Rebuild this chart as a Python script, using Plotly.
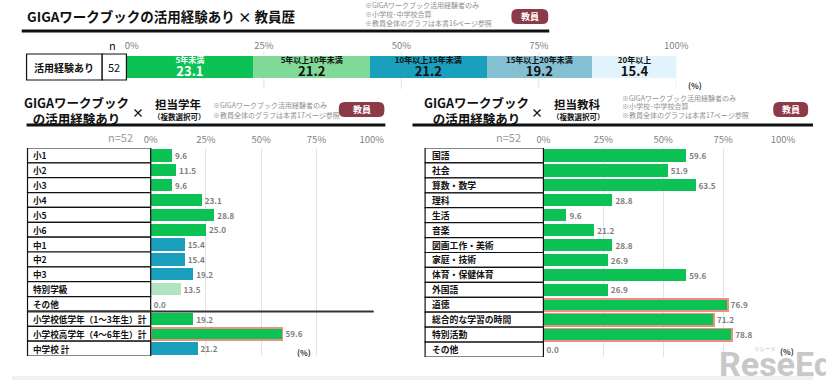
import plotly.graph_objects as go

W, H = 826, 380
def X(px): return px / W
def Y(py): return 1 - py / H

FONT = "Noto Sans CJK JP"

# ---------------- data ----------------
top_row_label = "活用経験あり"
top_n = 52
career_cats = ["5年未満", "5年以上10年未満", "10年以上15年未満", "15年以上20年未満", "20年以上"]
career_vals = [23.1, 21.2, 21.2, 19.2, 15.4]
career_colors = ["#0cc255", "#80d997", "#1a9fbd", "#85bfd2", "#e2f4fb"]
career_textcolors = ["#ffffff", "#111111", "#111111", "#111111", "#111111"]

grade_cats = ["小1", "小2", "小3", "小4", "小5", "小6", "中1", "中2", "中3", "特別学級", "その他",
              "小学校低学年（1～3年生）計", "小学校高学年（4～6年生）計", "中学校 計"]
grade_vals = [9.6, 11.5, 9.6, 23.1, 28.8, 25.0, 15.4, 15.4, 19.2, 13.5, 0.0, 19.2, 59.6, 21.2]
grade_groups = ["小", "小", "小", "小", "小", "小", "中", "中", "中", "特", "他", "小", "小", "中"]
grade_highlight = [12]

subj_cats = ["国語", "社会", "算数・数学", "理科", "生活", "音楽", "図画工作・美術", "家庭・技術",
             "体育・保健体育", "外国語", "道徳", "総合的な学習の時間", "特別活動", "その他"]
subj_vals = [59.6, 51.9, 63.5, 28.8, 9.6, 21.2, 28.8, 26.9, 59.6, 26.9, 76.9, 71.2, 78.8, 0.0]
subj_highlight = [10, 11, 12]

tick_vals = [0, 25, 50, 75, 100]
tick_text = ["0%", "25%", "50%", "75%", "100%"]

GREEN = "#0cc255"
TEAL = "#1a9fbd"
LIGHTG = "#b3e4c1"
HL = "#ee8f7f"
group_color = {"小": GREEN, "中": TEAL, "特": LIGHTG, "他": GREEN}
VALGREY = "#7f7f7f"

fig = go.Figure()

# ---------------- top stacked bar ----------------
for cat, v, c, tc in zip(career_cats, career_vals, career_colors, career_textcolors):
    fig.add_trace(go.Bar(
        x=[v], y=[0], width=[1], orientation="h", xaxis="x", yaxis="y",
        marker=dict(color=c, line=dict(width=0)),
        text=[f"<span style='font-size:8px'><b>{cat}</b></span><br>"
              f"<span style='font-size:13px'><b>{v:.1f}</b></span>"],
        textposition="inside", insidetextanchor="middle", constraintext="none",
        textangle=0,
        textfont=dict(color=tc, size=10, family=FONT),
        showlegend=False, hoverinfo="skip"))

def bars(vals, cats, colors, hl, xa, ya):
    lw = [1.8 if i in hl else 0 for i in range(len(vals))]
    lc = [HL if i in hl else "rgba(0,0,0,0)" for i in range(len(vals))]
    fig.add_trace(go.Bar(
        x=vals, y=list(range(len(cats))), orientation="h", xaxis=xa, yaxis=ya,
        marker=dict(color=colors, line=dict(width=lw, color=lc)),
        texttemplate="%{x:.1f}", textposition="outside", cliponaxis=False,
        textfont=dict(color=VALGREY, size=10, family=FONT, weight="bold"),
        showlegend=False, hoverinfo="skip"))

bars(grade_vals, grade_cats, [group_color[g] for g in grade_groups], grade_highlight, "x2", "y2")
bars(subj_vals, subj_cats, [GREEN] * len(subj_vals), subj_highlight, "x3", "y3")

axfont = dict(color=VALGREY, size=9.5, family=FONT)
xcommon = dict(range=[0, 100], tickvals=tick_vals, side="top",
               ticks="", tickfont=axfont, zeroline=False, showline=False, fixedrange=True)
top_ticktext = ["\u2007\u2007" + tick_text[0]] + tick_text[1:]

fig.update_layout(
    width=W, height=H, margin=dict(l=0, r=0, t=0, b=0),
    paper_bgcolor="white", plot_bgcolor="rgba(0,0,0,0)",
    barmode="stack", bargap=0.18,
    font=dict(family=FONT),
    xaxis=dict(domain=[X(118), X(685)], anchor="y", showgrid=False, ticktext=top_ticktext,
               ticklabelstandoff=4, **xcommon),
    yaxis=dict(domain=[Y(78), Y(56)], range=[-0.5, 0.5], anchor="x",
               showticklabels=False, showgrid=False, zeroline=False),
    xaxis2=dict(domain=[X(143), X(371)], anchor="y2", showgrid=True, ticktext=tick_text,
                ticklabelstandoff=2, gridcolor="#e4e4e4", gridwidth=1, **xcommon),
    yaxis2=dict(domain=[Y(356), Y(148)], range=[len(grade_cats) - 0.5, -0.5], anchor="x2",
                showticklabels=False, showgrid=False, zeroline=False),
    xaxis3=dict(domain=[X(548), X(795)], anchor="y3", showgrid=True, ticktext=tick_text,
                ticklabelstandoff=2, gridcolor="#e4e4e4", gridwidth=1, **xcommon),
    yaxis3=dict(domain=[Y(357), Y(148)], range=[len(subj_cats) - 0.5, -0.5], anchor="x3",
                showticklabels=False, showgrid=False, zeroline=False),
)

shapes = []
ann = []

def text(x, y, s, size, color="#111111", xanchor="left", bold=False, family=FONT, yref="paper", xref="paper"):
    ann.append(dict(x=x, y=y, xref=xref, yref=yref, text=(f"<b>{s}</b>" if bold else s),
                    showarrow=False, xanchor=xanchor, yanchor="middle",
                    font=dict(size=size, color=color, family=family)))

def hline(x0, x1, y, w, color="#111111"):
    shapes.append(dict(type="line", xref="paper", yref="paper", x0=X(x0), x1=X(x1),
                       y0=Y(y), y1=Y(y), line=dict(color=color, width=w)))

def badge(x0, x1, y0, y1, label):
    r = 6
    rx, ry = r / W, r / H
    a, b, c, d = X(x0), X(x1), Y(y1), Y(y0)
    path = (f"M{a+rx},{c} L{b-rx},{c} Q{b},{c} {b},{c+ry} L{b},{d-ry} Q{b},{d} {b-rx},{d} "
            f"L{a+rx},{d} Q{a},{d} {a},{d-ry} L{a},{c+ry} Q{a},{c} {a+rx},{c} Z")
    shapes.append(dict(type="path", xref="paper", yref="paper", path=path,
                       fillcolor="#8c3a48", line=dict(width=0)))
    text((a + b) / 2, (c + d) / 2, label, 9, color="white", xanchor="center", bold=True)

NOTE = "#8f8f8f"

# ---------------- top section ----------------
text(X(13), Y(16), "GIGAワークブックの活用経験あり × 教員歴", 13.5, bold=True)
for i, s in enumerate(["※GIGAワークブック活用経験者のみ", "※小学校･中学校合算", "※教員全体のグラフは本書16ページ参照"]):
    text(X(362), Y(5.5 + 8.5 * i), s, 7, color=NOTE)
badge(515, 553, 9, 24, "教員")
hline(10, 554, 31, 3)

# top table
shapes.append(dict(type="rect", xref="paper", yref="paper", x0=X(15), x1=X(93), y0=Y(80), y1=Y(54),
                   line=dict(color="#111111", width=1.2), fillcolor="white"))
shapes.append(dict(type="rect", xref="paper", yref="paper", x0=X(93), x1=X(118), y0=Y(80), y1=Y(54),
                   line=dict(color="#111111", width=1.2), fillcolor="white"))
text(X(54), Y(67), top_row_label, 10, xanchor="center", bold=True)
text(X(105.5), Y(67), str(top_n), 11, xanchor="center")
text(X(104), Y(45), "n", 11, xanchor="center")
for v in tick_vals[1:]:
    shapes.append(dict(type="line", xref="x", yref="paper", x0=v, x1=v, y0=Y(89), y1=Y(52),
                       line=dict(color="#e4e4e4", width=1), layer="below"))
text(X(695), Y(85), "(%)", 8, bold=True, color="#333333")

# ---------------- bottom-left ----------------
ann.append(dict(x=X(67), y=Y(110), xref="paper", yref="paper", showarrow=False,
                text="<b>GIGAワークブック<br>の活用経験あり</b>", align="center",
                xanchor="center", yanchor="middle", font=dict(size=12.5, color="#111111", family=FONT)))
text(X(130), Y(113), "×", 12, xanchor="center", bold=True)
text(X(145), Y(104), "担当学年", 11.5, bold=True)
text(X(143), Y(117), "（複数選択可）", 7.5, bold=True)
for i, s in enumerate(["※GIGAワークブック活用経験者のみ", "※教員全体のグラフは本書17ページ参照"]):
    text(X(205), Y(105 + 9.5 * i), s, 7, color=NOTE)
badge(337, 384, 102, 117, "教員")
hline(15, 385, 125, 3)
text(X(127), Y(137), "n=52", 11, xanchor="right", color="#9a9a9a")

for i, cat in enumerate(grade_cats):
    shapes.append(dict(type="rect", xref="paper", yref="y2", x0=X(16), x1=X(143),
                       y0=i - 0.5, y1=i + 0.5, line=dict(color="#111111", width=1.2), fillcolor="white"))
    text(X(20), i, cat, 8.6, bold=True, yref="y2")
sep = grade_cats.index("その他") + 0.5
shapes.append(dict(type="line", xref="paper", yref="y2", x0=X(16), x1=X(373), y0=sep, y1=sep,
                   line=dict(color="#333333", width=2)))
text(X(292), Y(352), "(%)", 8, bold=True, color="#333333")

# ---------------- bottom-right ----------------
ann.append(dict(x=X(479), y=Y(110), xref="paper", yref="paper", showarrow=False,
                text="<b>GIGAワークブック<br>の活用経験あり</b>", align="center",
                xanchor="center", yanchor="middle", font=dict(size=12.5, color="#111111", family=FONT)))
text(X(541), Y(113), "×", 12, xanchor="center", bold=True)
text(X(557), Y(104), "担当教科", 11.5, bold=True)
text(X(555), Y(117), "（複数選択可）", 7.5, bold=True)
for i, s in enumerate(["※GIGAワークブック活用経験者のみ", "※小学校･中学校合算", "※教員全体のグラフは本書17ページ参照"]):
    text(X(627), Y(98 + 8.5 * i), s, 7, color=NOTE)
badge(785, 821, 102, 117, "教員")
hline(413, 826, 125, 3)
text(X(527), Y(137), "n=52", 11, xanchor="right", color="#9a9a9a")

for i, cat in enumerate(subj_cats):
    shapes.append(dict(type="rect", xref="paper", yref="y3", x0=X(426), x1=X(548),
                       y0=i - 0.5, y1=i + 0.5, line=dict(color="#111111", width=1.2), fillcolor="white"))
    text(X(431), i, cat, 8.8, bold=True, yref="y3")

# bottom strip + watermark
shapes.append(dict(type="rect", xref="paper", yref="paper", x0=0, x1=1, y0=0, y1=Y(376),
                   fillcolor="#f1f1f1", line=dict(width=0), layer="below"))
text(X(727), Y(364), "ReseEd", 34, color="#c8c8c8", bold=True, family="Roboto")
text(X(763), Y(349), "リシード", 5.5, color="#bbbbbb")
text(X(790), Y(351), "(%)", 8, bold=True, color="#333333")

fig.update_layout(shapes=shapes, annotations=ann)
fig.write_html("out.html")
